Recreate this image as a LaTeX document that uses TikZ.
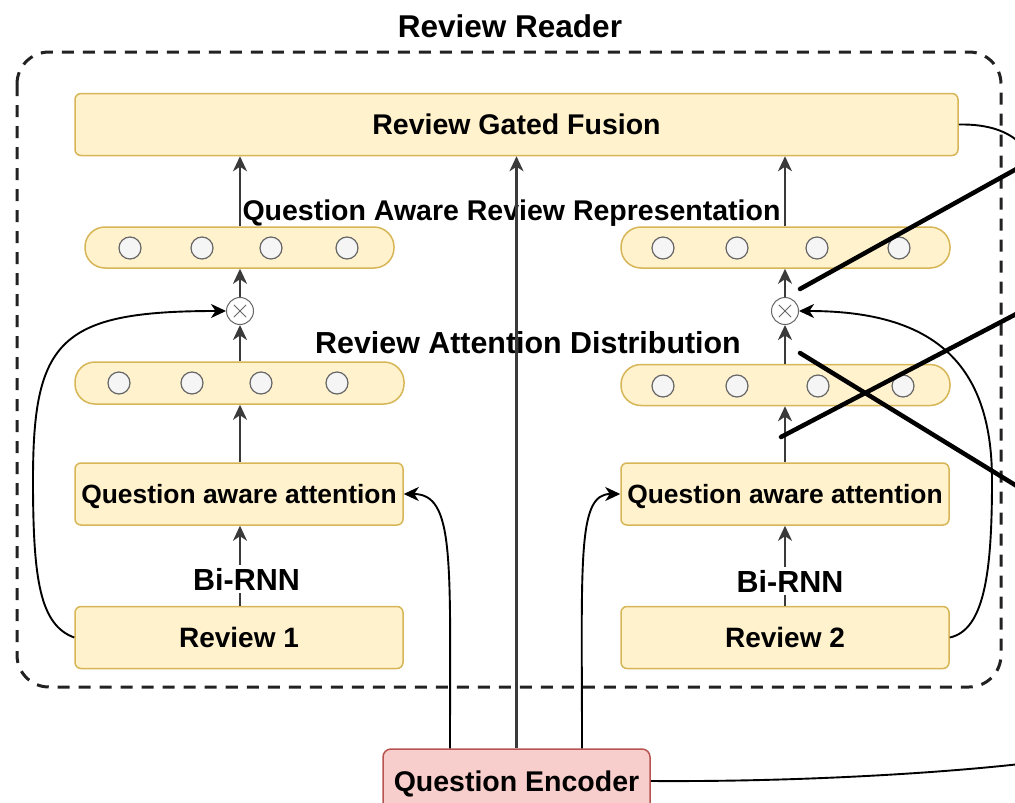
\documentclass[tikz,border=0pt]{standalone}
\usepackage{fontspec}
\setmainfont{Liberation Sans}
\usetikzlibrary{arrows.meta,calc}
\definecolor{ybox}{HTML}{FFF2CC}
\definecolor{yline}{HTML}{D6B656}
\definecolor{rbox}{HTML}{F8CECC}
\definecolor{rline}{HTML}{B85450}
\definecolor{unitfill}{HTML}{F5F5F5}
\definecolor{unitline}{HTML}{666666}
\definecolor{wire}{HTML}{3A3A3A}
\definecolor{frame}{HTML}{222222}
\newcommand{\bfsz}[1]{\bfseries\fontsize{#1}{#1}\selectfont}
\begin{document}
\begin{tikzpicture}[x=1pt,y=-1pt,
  yellowbox/.style={draw=yline, fill=ybox, line width=1.5pt, rounded corners=6pt,
    inner sep=0pt, font=\bfsz{28}, text height=20pt, text depth=0pt},
  smalltext/.style={font=\bfsz{26.4}, text height=18.9pt},
  pill/.style={draw=yline, fill=ybox, line width=1.5pt, rounded corners=20pt, inner sep=0pt},
  unit/.style={circle, draw=unitline, fill=unitfill, line width=1.2pt, minimum size=22pt, inner sep=0pt},
  mult/.style={circle, draw=unitline, fill=white, line width=1pt, minimum size=27pt, inner sep=0pt},
  tipa/.tip={Stealth[length=15pt,width=14pt,inset=4.5pt]},
  flow/.style={draw=wire, line width=2.1pt, -tipa},
  curvearrow/.style={draw=black, line width=1.9pt, -tipa},
  plainwire/.style={draw=black, line width=1.9pt},
  pointer/.style={draw=black, line width=4.5pt, line cap=round},
  caption/.style={font=\bfsz{28.5}, anchor=base, inner sep=0pt},
  rnnlabel/.style={font=\bfsz{30.5}, anchor=base, fill=white, inner xsep=2pt, inner ysep=3pt}
]
\useasboundingbox (0,0) rectangle (1015,803);

% outer dashed frame and its title
\draw[frame, line width=3pt, dash pattern=on 12pt off 9pt, rounded corners=32pt]
  (17,52) rectangle (1001,687);
\node[font=\bfsz{31.5}, anchor=base, inner sep=0pt] (title) at (510,37) {Review Reader};

% fusion layer
\node[yellowbox, font=\bfsz{28.5}, text height=20.4pt, minimum width=883pt, minimum height=62pt] (fusion) at (516.5,124.5) {Review Gated Fusion};

% left branch
\node[pill, minimum width=309pt, minimum height=41pt] (qarl) at (239.5,247.5) {};
\node[pill, minimum width=329pt, minimum height=42pt] (radl) at (239.5,383) {};
\node[yellowbox, smalltext, minimum width=328pt, minimum height=62pt] (qal) at (239,494) {Question aware attention};
\node[yellowbox, minimum width=328pt, minimum height=62pt] (rev1) at (239,637.5) {Review 1};
\node[mult] (oxl) at (240,311) {};

% right branch
\node[pill, minimum width=329pt, minimum height=41pt] (qarr) at (785.5,247.5) {};
\node[pill, minimum width=329pt, minimum height=41pt] (radr) at (785.5,385) {};
\node[yellowbox, smalltext, minimum width=328pt, minimum height=62pt] (qar) at (785,494) {Question aware attention};
\node[yellowbox, minimum width=328pt, minimum height=62pt] (rev2) at (785,637.5) {Review 2};
\node[mult] (oxr) at (785,311) {};

% vector units
\foreach \x [count=\i] in {130,202,271,347} \node[unit] (ul\i) at (\x,248) {};
\foreach \x [count=\i] in {119,192,261,337} \node[unit] (dl\i) at (\x,383) {};
\foreach \x [count=\i] in {663,737,817,899} \node[unit] (ur\i) at (\x,248) {};
\foreach \x [count=\i] in {663,737,818,903} \node[unit] (dr\i) at (\x,386) {};

% multiplication signs
\foreach \m in {oxl,oxr} {
  \draw[unitline, line width=1pt] ($(\m)!0.62!(\m.45)$) -- ($(\m)!0.62!(\m.225)$);
  \draw[unitline, line width=1pt] ($(\m)!0.62!(\m.135)$) -- ($(\m)!0.62!(\m.315)$);
}

% question encoder
\node[draw=rline, fill=rbox, line width=1.5pt, rounded corners=8pt, inner sep=0pt,
  minimum width=267pt, minimum height=64pt, font=\bfsz{28.5}, text height=20.4pt, text depth=0pt] (qe) at (516.5,781) {Question Encoder};

% captions
\node[caption] (capqarr) at (511.5,220) {Question Aware Review Representation};
\node[caption, font=\bfsz{30.4}] (caprad) at (528,353) {Review Attention Distribution};

% left stack connectors
\draw[flow] (oxl |- radl.north) -- (oxl.south);
\draw[flow] (oxl.north) -- (oxl |- qarl.south);
\draw[flow] (oxl |- qarl.north) -- (oxl |- fusion.south);
\draw[flow] (oxl |- qal.north) -- (oxl |- radl.south);
\draw[flow] (oxl |- rev1.north) -- (oxl |- qal.south);
\node[rnnlabel] (rnnl) at (246.5,590) {Bi-RNN};

% right stack connectors
\draw[flow] (oxr |- radr.north) -- (oxr.south);
\draw[flow] (oxr.north) -- (oxr |- qarr.south);
\draw[flow] (oxr |- qarr.north) -- (oxr |- fusion.south);
\draw[flow] (oxr |- qar.north) -- (oxr |- radr.south);
\draw[flow] (oxr |- rev2.north) -- (oxr |- qar.south);
\node[rnnlabel] (rnnr) at (790,592) {Bi-RNN};

% question encoder feeds
\draw[flow] (qe.north) -- (qe.north |- fusion.south);
\draw[curvearrow] ($(qe.north)+(-66.5,0)$) .. controls (450,560) and (455,494) .. (qal.east);
\draw[curvearrow] ($(qe.north)+(65.5,0)$) .. controls (582,560) and (577,494) .. (qar.west);

% skip connections from the reviews to the products
\draw[curvearrow] (rev1.west) .. controls (40,625) and (33,580) .. (33,480)
  .. controls (33,340) and (60,311) .. (oxl.west);
\draw[curvearrow] (rev2.east) .. controls (985,630) and (992,570) .. (992,480)
  .. controls (992,360) and (930,311) .. (oxr.east);

% outgoing wires
\coordinate (fout) at (1020,143);
\coordinate (qout) at (1020,764);
\draw[plainwire] (fusion.east) .. controls (990,124) and (1008,132) .. (fout);
\draw[plainwire] (qe.east) .. controls (800,782) and (940,773) .. (qout);

% pointer strokes
\coordinate (p1a) at (800,289);  \coordinate (p1b) at (1020,167);
\coordinate (p2a) at (781,437);  \coordinate (p2b) at (1020,312);
\coordinate (p3a) at (800,353);  \coordinate (p3b) at (1020,488);
\draw[pointer] (p1a) -- (p1b);
\draw[pointer] (p2a) -- (p2b);
\draw[pointer] (p3a) -- (p3b);
\end{tikzpicture}
\end{document}
